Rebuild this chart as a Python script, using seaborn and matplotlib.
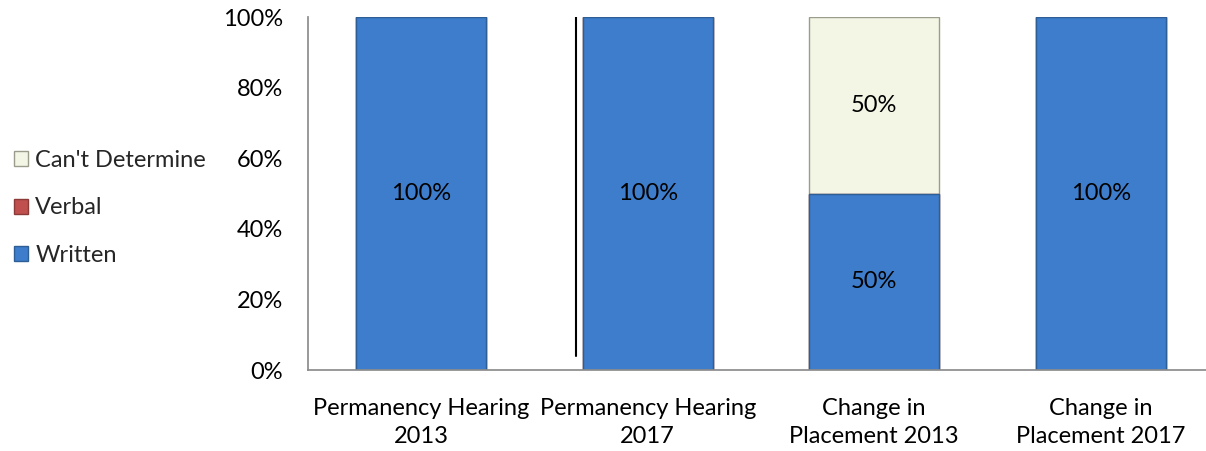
import pandas as pd
import matplotlib
matplotlib.use("Agg")
from matplotlib import pyplot as plt
from matplotlib.patches import Patch
from matplotlib.ticker import PercentFormatter
import seaborn as sns

categories = ["Permanency Hearing\n2013", "Permanency Hearing\n2017",
              "Change in\nPlacement 2013", "Change in\nPlacement 2017"]
written = [100, 100, 50, 100]
verbal = [0, 0, 0, 0]
cant_determine = [0, 0, 50, 0]

df = pd.DataFrame({"category": categories, "Written": written,
                   "Verbal": verbal, "Can't Determine": cant_determine})
# cumulative heights for stacking
df["lvl1"] = df["Written"]
df["lvl2"] = df["lvl1"] + df["Verbal"]
df["lvl3"] = df["lvl2"] + df["Can't Determine"]

sns.set_theme(style="white")
plt.rcParams["font.family"] = ["Lato", "DejaVu Sans"]

fs = 17

fig = plt.figure(figsize=(12.06, 4.51), dpi=100)
ax = fig.add_axes([0.2554, 0.1796, 0.7512, 0.7827])

c_blue = "#3D7DCB"
c_red = "#C0504D"
c_cream = "#F3F6E4"

sns.barplot(data=df, x="category", y="lvl3", color=c_cream, edgecolor="#9C9C8C",
            linewidth=1, width=0.575, saturation=1, ax=ax)
sns.barplot(data=df, x="category", y="lvl2", color=c_red, edgecolor="#8C3A38",
            linewidth=1, width=0.575, saturation=1, ax=ax)
sns.barplot(data=df, x="category", y="lvl1", color=c_blue, edgecolor="#2E5E96",
            linewidth=1, width=0.575, saturation=1, ax=ax)

# segment labels
for i, row in df.iterrows():
    segs = [(0, row["Written"]), (row["lvl2"], row["Can't Determine"])]
    for start, val in segs:
        if val > 0:
            ax.text(i, start + val / 2, f"{val:.0f}%", ha="center", va="center",
                    fontsize=fs, color="black")

# stray vertical rule next to the second bar
ax.axvline(0.683, ymin=0.04, ymax=1, color="black", linewidth=1.5)

ax.set_xlim(-0.5, 3.5)
ax.set_ylim(0, 100)
ax.set_yticks(range(0, 101, 20))
ax.yaxis.set_major_formatter(PercentFormatter(decimals=0))
ax.set_xlabel("")
ax.set_ylabel("")
ax.tick_params(axis="both", labelsize=fs, length=0, colors="black")
ax.tick_params(axis="x", pad=20)
ax.tick_params(axis="y", pad=18)
for lbl in ax.get_xticklabels():
    lbl.set_linespacing(1.45)

for side in ["top", "right"]:
    ax.spines[side].set_visible(False)
ax.spines["left"].set_color("#8C8C8C")
ax.spines["bottom"].set_color("#8C8C8C")

handles = [Patch(facecolor=c_cream, edgecolor="#9C9C8C"),
           Patch(facecolor=c_red, edgecolor="#8C3A38"),
           Patch(facecolor=c_blue, edgecolor="#2E5E96")]
fig.legend(handles, ["Can't Determine", "Verbal", "Written"],
           loc="center left", bbox_to_anchor=(-0.006, 0.539), frameon=False,
           fontsize=fs, handlelength=0.6, handleheight=0.6, handletextpad=0.3,
           labelspacing=1.12)

fig.savefig("out.png", dpi=100)
